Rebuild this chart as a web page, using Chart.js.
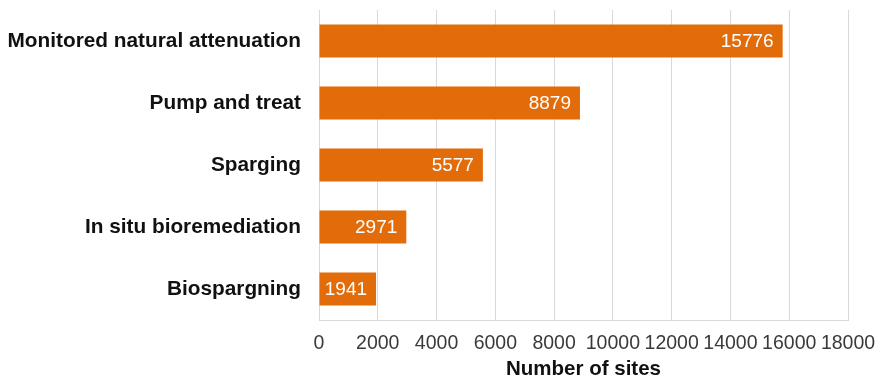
<!DOCTYPE html>
<html>
<head>
<meta charset="utf-8">
<script src="https://cdn.jsdelivr.net/npm/chart.js@4"></script>
<style>
  html, body { margin: 0; padding: 0; background: #ffffff; }
  #wrap { width: 877px; height: 377px; }
</style>
</head>
<body>
<div id="wrap"><canvas id="c" width="877" height="377"></canvas></div>
<script>
// Remediation technologies and the number of sites using each
const categories = [
  'Monitored natural attenuation',
  'Pump and treat',
  'Sparging',
  'In situ bioremediation',
  'Biospargning'
];
const siteCounts = [15776, 8879, 5577, 2971, 1941];
const axisMax = 18000;
const axisStep = 2000;
const axisTitle = 'Number of sites';

const FONT = '"Liberation Sans", Arial, sans-serif';

// Writes each bar's value in white just inside its right end
const valueLabels = {
  id: 'valueLabels',
  afterDatasetsDraw(chart) {
    const ctx = chart.ctx;
    const meta = chart.getDatasetMeta(0);
    ctx.save();
    ctx.font = '19px ' + FONT;
    ctx.fillStyle = '#ffffff';
    ctx.textAlign = 'right';
    ctx.textBaseline = 'middle';
    meta.data.forEach((bar, i) => {
      ctx.fillText(String(siteCounts[i]), bar.x - 9, bar.y + 1);
    });
    ctx.restore();
  }
};

new Chart(document.getElementById('c'), {
  type: 'bar',
  data: {
    labels: categories,
    datasets: [{
      data: siteCounts,
      backgroundColor: 'rgb(227,108,10)',
      borderWidth: 0,
      barPercentage: 0.53,
      categoryPercentage: 1.0
    }]
  },
  options: {
    indexAxis: 'y',
    responsive: false,
    animation: false,
    layout: { padding: { top: 10, right: 29, left: 0, bottom: 0 } },
    plugins: {
      legend: { display: false },
      tooltip: { enabled: false }
    },
    scales: {
      x: {
        min: 0,
        max: axisMax,
        ticks: {
          stepSize: axisStep,
          autoSkip: false,
          maxRotation: 0,
          minRotation: 0,
          color: '#3a3a3a',
          padding: 12,
          font: { family: FONT, size: 19.5 },
          callback: (v) => String(v)
        },
        grid: {
          color: '#d9d9d9',
          lineWidth: 1,
          drawTicks: false
        },
        border: { display: true, color: '#d9d9d9' },
        title: {
          display: true,
          text: axisTitle,
          color: '#111111',
          padding: { top: 0, bottom: -5 },
          font: { family: FONT, size: 20.5, weight: 'bold' }
        },
        afterFit(scale) {
          scale.height = 57;
          scale.paddingLeft = 0;
          scale.paddingRight = 0;
        }
      },
      y: {
        ticks: {
          color: '#111111',
          padding: 18,
          font: { family: FONT, size: 20.8, weight: 'bold' }
        },
        grid: { display: false, drawTicks: false },
        border: { display: false },
        afterFit(scale) {
          scale.width = 319;
          scale.paddingTop = 0;
          scale.paddingBottom = 0;
        }
      }
    }
  },
  plugins: [valueLabels]
});
</script>
</body>
</html>
